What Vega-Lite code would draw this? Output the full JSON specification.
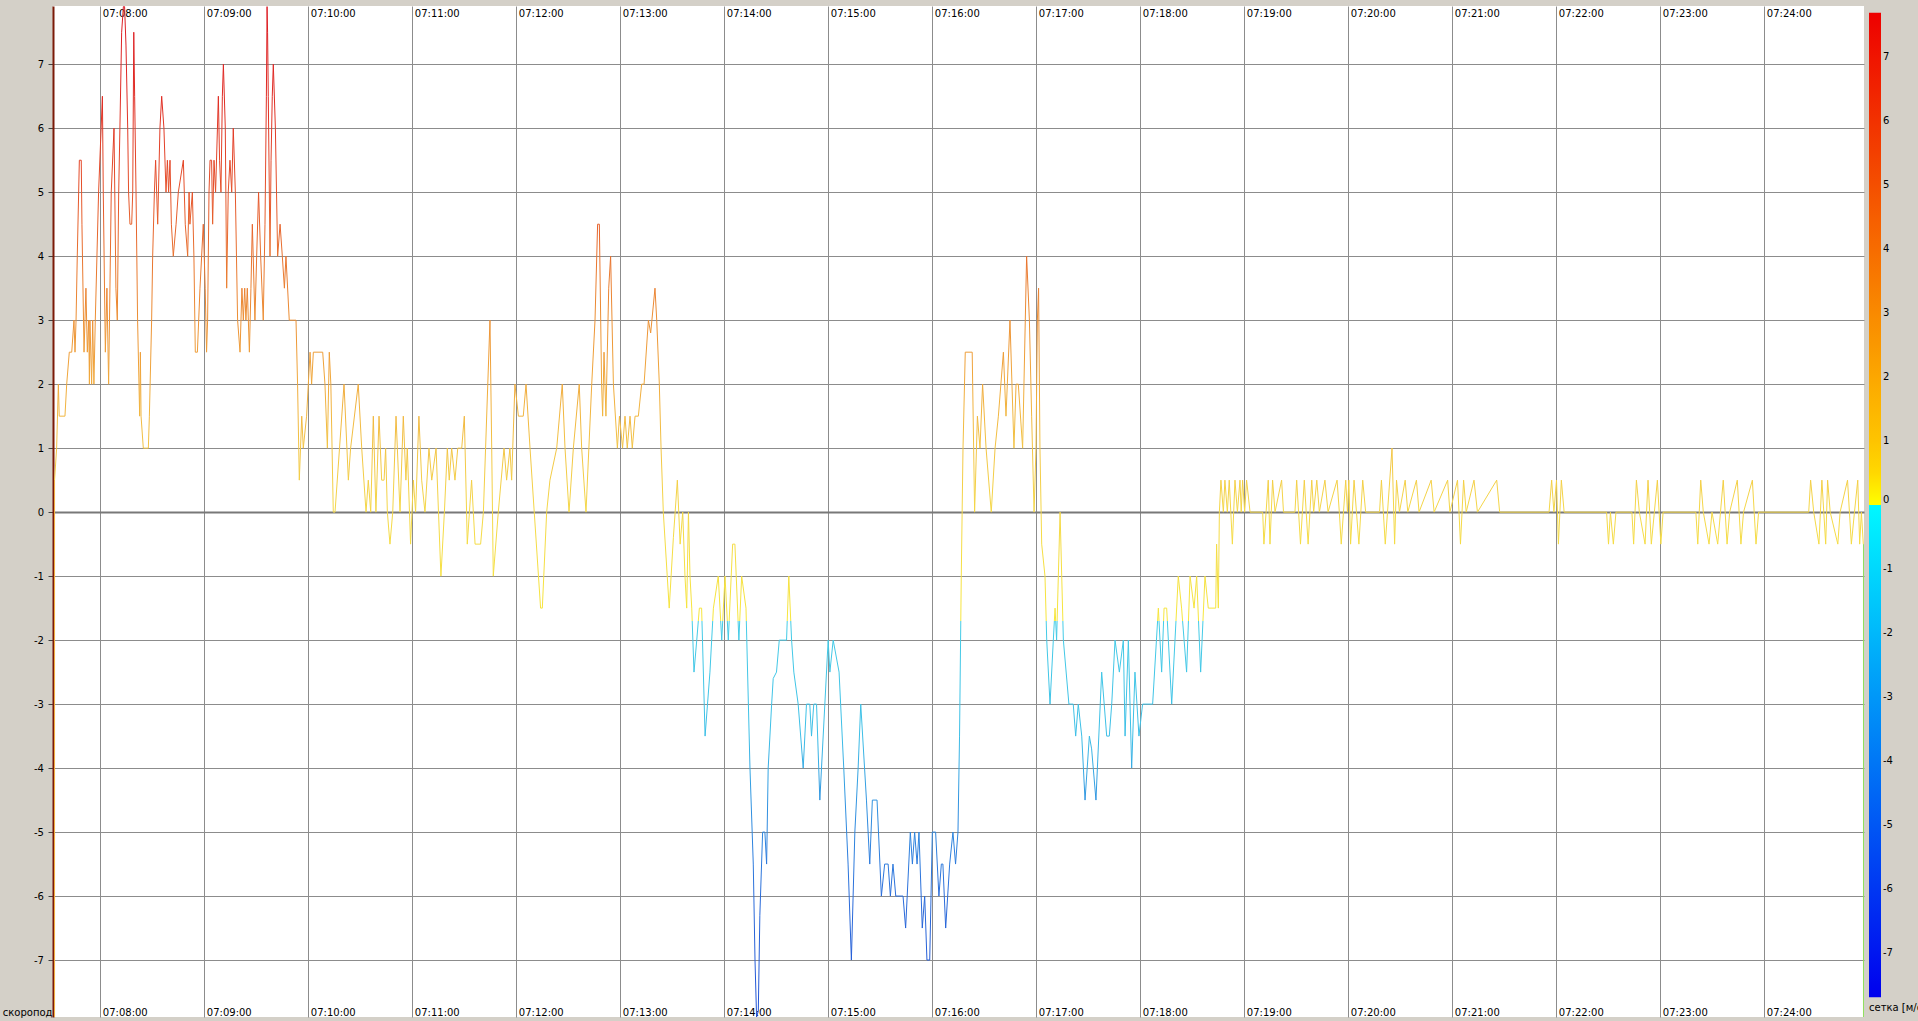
{
"$schema":"https://vega.github.io/schema/vega-lite/v6.json",
"width":1811,"height":1011,
"autosize":{"type":"none"},
"padding":{"left":53,"top":6,"right":54,"bottom":4},
"background":"#d4d0c8",
"config":{
"view":{"fill":"#ffffff","stroke":null},
"font":"DejaVu Sans",
"axis":{"labelFont":"DejaVu Sans","labelFontSize":10,"labelColor":"#000000","titleFont":"DejaVu Sans","gridColor":"#8c8c8c","gridWidth":1,"gridOpacity":1,"labelFlush":false,"labelOverlap":false,"labelBound":false},
"legend":{"labelFont":"DejaVu Sans","labelFontSize":10,"labelColor":"#000000","titleFont":"DejaVu Sans","titleFontSize":10,"titleFontWeight":"normal","titleColor":"#000000","padding":0,"gradientStrokeWidth":0,"gradientThickness":12,"gradientLength":492.3,"labelOffset":6,"labelBaseline":"middle","direction":"vertical","orient":"none"}
},
"datasets":{"climb":[
{"s":453.6,"v":0.5},{"s":454.8,"v":1.0},{"s":455.8,"v":2.0},{"s":456.3,"v":1.5},{"s":459.6,"v":1.5},{"s":460.6,"v":2.0},{"s":462.1,"v":2.5},{"s":463.5,"v":2.5},{"s":464.8,"v":3.0},{"s":465.4,"v":2.5},{"s":466.0,"v":3.0},{"s":466.7,"v":4.0},{"s":467.9,"v":5.5},{"s":469.0,"v":5.5},{"s":469.4,"v":4.5},{"s":470.6,"v":2.5},{"s":471.7,"v":3.5},{"s":472.5,"v":2.5},{"s":473.3,"v":3.0},{"s":473.7,"v":2.0},{"s":474.0,"v":3.0},{"s":475.0,"v":2.0},{"s":475.6,"v":3.0},{"s":476.3,"v":2.0},{"s":477.1,"v":3.0},{"s":479.0,"v":5.0},{"s":481.2,"v":6.5},{"s":481.7,"v":5.0},{"s":482.9,"v":2.5},{"s":483.8,"v":3.5},{"s":484.8,"v":2.0},{"s":486.3,"v":5.0},{"s":487.9,"v":6.0},{"s":489.0,"v":3.5},{"s":489.8,"v":3.0},{"s":490.6,"v":5.0},{"s":491.3,"v":6.0},{"s":492.3,"v":7.5},{"s":493.3,"v":7.9},{"s":494.0,"v":7.9},{"s":494.8,"v":7.3},{"s":495.8,"v":6.0},{"s":496.3,"v":5.0},{"s":497.1,"v":4.5},{"s":498.1,"v":4.5},{"s":498.7,"v":5.0},{"s":499.3,"v":7.5},{"s":499.8,"v":6.5},{"s":500.6,"v":5.0},{"s":501.5,"v":3.0},{"s":502.3,"v":2.0},{"s":502.7,"v":1.5},{"s":503.1,"v":2.5},{"s":503.5,"v":1.5},{"s":504.8,"v":1.0},{"s":507.7,"v":1.0},{"s":508.3,"v":1.5},{"s":509.6,"v":3.0},{"s":510.2,"v":4.0},{"s":511.2,"v":5.0},{"s":511.9,"v":5.5},{"s":512.5,"v":5.0},{"s":513.1,"v":4.5},{"s":514.4,"v":6.0},{"s":515.4,"v":6.5},{"s":516.7,"v":6.0},{"s":517.9,"v":5.0},{"s":518.7,"v":5.5},{"s":519.4,"v":5.0},{"s":520.2,"v":5.5},{"s":521.0,"v":4.5},{"s":522.1,"v":4.0},{"s":523.7,"v":4.5},{"s":525.0,"v":5.0},{"s":527.9,"v":5.5},{"s":529.0,"v":4.5},{"s":530.4,"v":4.0},{"s":531.2,"v":5.0},{"s":531.7,"v":4.5},{"s":533.1,"v":5.0},{"s":534.0,"v":4.0},{"s":534.8,"v":2.5},{"s":536.0,"v":2.5},{"s":537.5,"v":3.5},{"s":539.4,"v":4.5},{"s":540.5,"v":3.5},{"s":541.3,"v":2.5},{"s":541.9,"v":3.0},{"s":542.7,"v":5.0},{"s":543.3,"v":5.5},{"s":544.2,"v":5.5},{"s":544.8,"v":4.5},{"s":545.6,"v":5.5},{"s":546.5,"v":5.0},{"s":548.1,"v":6.5},{"s":548.8,"v":5.5},{"s":549.6,"v":5.0},{"s":550.4,"v":6.5},{"s":551.0,"v":7.0},{"s":552.1,"v":6.0},{"s":552.9,"v":3.5},{"s":553.8,"v":5.0},{"s":554.8,"v":5.5},{"s":555.8,"v":5.0},{"s":556.7,"v":6.0},{"s":557.9,"v":5.0},{"s":559.2,"v":3.0},{"s":560.6,"v":2.5},{"s":561.7,"v":3.5},{"s":562.5,"v":3.0},{"s":563.3,"v":3.5},{"s":564.0,"v":3.0},{"s":564.8,"v":3.5},{"s":566.0,"v":2.5},{"s":566.9,"v":3.5},{"s":567.7,"v":4.5},{"s":569.2,"v":3.0},{"s":570.2,"v":4.0},{"s":571.3,"v":5.0},{"s":572.5,"v":4.0},{"s":574.0,"v":3.0},{"s":575.0,"v":4.5},{"s":575.8,"v":6.5},{"s":576.2,"v":7.9},{"s":576.5,"v":7.5},{"s":576.9,"v":6.5},{"s":577.9,"v":4.0},{"s":578.5,"v":5.5},{"s":579.2,"v":6.5},{"s":579.8,"v":7.0},{"s":581.0,"v":6.0},{"s":582.3,"v":4.0},{"s":583.7,"v":4.5},{"s":585.0,"v":4.0},{"s":586.2,"v":3.5},{"s":587.1,"v":4.0},{"s":589.0,"v":3.0},{"s":592.9,"v":3.0},{"s":593.8,"v":2.0},{"s":594.8,"v":0.5},{"s":596.2,"v":1.5},{"s":597.1,"v":1.0},{"s":599.0,"v":1.5},{"s":601.0,"v":2.5},{"s":601.9,"v":2.0},{"s":602.9,"v":2.5},{"s":608.3,"v":2.5},{"s":609.6,"v":2.0},{"s":611.0,"v":1.0},{"s":612.1,"v":2.5},{"s":613.0,"v":2.0},{"s":614.4,"v":0.0},{"s":615.4,"v":0.0},{"s":620.6,"v":2.0},{"s":623.1,"v":0.5},{"s":624.4,"v":1.0},{"s":628.8,"v":2.0},{"s":630.8,"v":1.0},{"s":633.3,"v":0.0},{"s":634.6,"v":0.5},{"s":636.0,"v":0.0},{"s":637.5,"v":1.5},{"s":639.0,"v":0.0},{"s":640.8,"v":1.5},{"s":642.3,"v":0.5},{"s":643.7,"v":0.5},{"s":644.6,"v":1.0},{"s":645.6,"v":0.0},{"s":647.1,"v":-0.5},{"s":648.7,"v":0.0},{"s":650.6,"v":1.5},{"s":652.9,"v":0.0},{"s":654.8,"v":1.5},{"s":656.3,"v":0.5},{"s":657.1,"v":1.0},{"s":659.0,"v":-0.5},{"s":660.6,"v":0.5},{"s":661.9,"v":0.0},{"s":663.8,"v":1.5},{"s":665.4,"v":0.5},{"s":667.3,"v":0.0},{"s":669.6,"v":1.0},{"s":671.2,"v":0.5},{"s":673.7,"v":1.0},{"s":676.5,"v":-1.0},{"s":678.5,"v":0.0},{"s":680.2,"v":1.0},{"s":681.3,"v":0.5},{"s":682.7,"v":1.0},{"s":684.6,"v":0.5},{"s":686.2,"v":1.0},{"s":688.5,"v":1.0},{"s":690.0,"v":1.5},{"s":691.3,"v":0.0},{"s":691.7,"v":-0.5},{"s":694.2,"v":0.5},{"s":696.2,"v":-0.5},{"s":699.4,"v":-0.5},{"s":701.0,"v":0.0},{"s":704.8,"v":3.0},{"s":705.8,"v":1.0},{"s":706.7,"v":-1.0},{"s":709.6,"v":0.0},{"s":712.9,"v":1.0},{"s":714.4,"v":0.5},{"s":716.3,"v":1.0},{"s":717.3,"v":0.5},{"s":719.2,"v":2.0},{"s":721.2,"v":1.5},{"s":724.0,"v":1.5},{"s":725.6,"v":2.0},{"s":727.9,"v":1.0},{"s":734.0,"v":-1.5},{"s":735.0,"v":-1.5},{"s":737.5,"v":0.0},{"s":739.4,"v":0.5},{"s":743.3,"v":1.0},{"s":746.5,"v":2.0},{"s":748.1,"v":1.0},{"s":750.4,"v":0.0},{"s":752.9,"v":1.0},{"s":756.3,"v":2.0},{"s":757.7,"v":1.0},{"s":760.2,"v":0.0},{"s":763.5,"v":2.0},{"s":765.4,"v":3.0},{"s":766.9,"v":4.5},{"s":767.9,"v":4.5},{"s":769.2,"v":2.0},{"s":769.8,"v":1.5},{"s":770.6,"v":2.5},{"s":771.7,"v":1.5},{"s":773.3,"v":3.5},{"s":774.4,"v":4.0},{"s":776.0,"v":2.0},{"s":778.3,"v":1.0},{"s":779.5,"v":1.5},{"s":781.3,"v":1.0},{"s":782.7,"v":1.5},{"s":784.0,"v":1.0},{"s":785.6,"v":1.5},{"s":786.9,"v":1.0},{"s":788.5,"v":1.5},{"s":790.4,"v":1.5},{"s":792.3,"v":2.0},{"s":793.7,"v":2.0},{"s":796.2,"v":3.0},{"s":797.5,"v":2.8},{"s":800.0,"v":3.5},{"s":801.0,"v":3.0},{"s":802.5,"v":2.0},{"s":803.5,"v":1.0},{"s":804.8,"v":0.0},{"s":808.2,"v":-1.5},{"s":810.6,"v":-0.4},{"s":812.9,"v":0.5},{"s":814.5,"v":-0.5},{"s":816.0,"v":0.0},{"s":817.3,"v":-1.0},{"s":818.3,"v":-1.5},{"s":819.3,"v":0.0},{"s":820.2,"v":-1.0},{"s":821.2,"v":-1.5},{"s":822.5,"v":-2.5},{"s":824.1,"v":-2.0},{"s":825.6,"v":-1.5},{"s":826.9,"v":-1.5},{"s":828.9,"v":-3.5},{"s":831.7,"v":-2.5},{"s":833.7,"v":-1.5},{"s":836.5,"v":-1.0},{"s":838.5,"v":-2.0},{"s":840.4,"v":-1.0},{"s":842.3,"v":-2.0},{"s":844.8,"v":-0.5},{"s":846.1,"v":-0.5},{"s":848.4,"v":-2.0},{"s":850.0,"v":-1.0},{"s":852.5,"v":-1.5},{"s":854.8,"v":-4.0},{"s":856.7,"v":-5.5},{"s":857.7,"v":-7.0},{"s":858.6,"v":-7.89},{"s":859.6,"v":-7.8},{"s":860.5,"v":-6.3},{"s":862.1,"v":-5.0},{"s":863.4,"v":-5.0},{"s":864.4,"v":-5.5},{"s":865.3,"v":-4.0},{"s":867.3,"v":-3.0},{"s":868.2,"v":-2.6},{"s":870.1,"v":-2.5},{"s":871.7,"v":-2.0},{"s":875.9,"v":-2.0},{"s":877.2,"v":-1.0},{"s":878.8,"v":-2.0},{"s":880.1,"v":-2.5},{"s":882.6,"v":-3.0},{"s":885.5,"v":-4.0},{"s":887.4,"v":-3.0},{"s":889.3,"v":-3.0},{"s":890.3,"v":-3.5},{"s":891.6,"v":-3.0},{"s":893.2,"v":-3.0},{"s":895.1,"v":-4.5},{"s":898.0,"v":-3.0},{"s":899.9,"v":-2.0},{"s":900.9,"v":-2.5},{"s":902.8,"v":-2.0},{"s":906.2,"v":-2.5},{"s":908.9,"v":-4.0},{"s":911.4,"v":-5.5},{"s":913.3,"v":-7.0},{"s":915.3,"v":-5.0},{"s":917.2,"v":-4.0},{"s":918.7,"v":-3.0},{"s":922.0,"v":-4.5},{"s":923.9,"v":-5.5},{"s":925.4,"v":-4.5},{"s":928.1,"v":-4.5},{"s":930.6,"v":-6.0},{"s":932.5,"v":-5.5},{"s":934.5,"v":-5.5},{"s":935.8,"v":-6.0},{"s":937.3,"v":-5.5},{"s":938.9,"v":-6.0},{"s":943.1,"v":-6.0},{"s":944.6,"v":-6.5},{"s":947.3,"v":-5.0},{"s":948.5,"v":-5.5},{"s":949.8,"v":-5.0},{"s":951.2,"v":-5.5},{"s":952.3,"v":-5.0},{"s":954.2,"v":-6.5},{"s":955.6,"v":-6.0},{"s":956.9,"v":-7.0},{"s":958.5,"v":-7.0},{"s":960.0,"v":-5.0},{"s":961.9,"v":-5.0},{"s":963.8,"v":-6.0},{"s":965.2,"v":-5.5},{"s":966.1,"v":-5.5},{"s":967.7,"v":-6.5},{"s":970.0,"v":-5.5},{"s":971.9,"v":-5.0},{"s":973.4,"v":-5.5},{"s":974.8,"v":-5.0},{"s":975.7,"v":-3.5},{"s":976.7,"v":-1.0},{"s":977.7,"v":1.0},{"s":979.0,"v":2.5},{"s":983.0,"v":2.5},{"s":984.4,"v":0.0},{"s":986.0,"v":1.5},{"s":987.5,"v":1.0},{"s":989.0,"v":2.0},{"s":991.0,"v":1.0},{"s":994.0,"v":0.0},{"s":996.2,"v":1.0},{"s":998.1,"v":1.5},{"s":1001.0,"v":2.5},{"s":1002.5,"v":1.5},{"s":1004.8,"v":3.0},{"s":1007.1,"v":1.0},{"s":1008.3,"v":2.0},{"s":1009.6,"v":2.0},{"s":1012.1,"v":1.0},{"s":1014.4,"v":4.0},{"s":1016.0,"v":3.0},{"s":1017.3,"v":1.5},{"s":1018.7,"v":0.0},{"s":1019.8,"v":1.0},{"s":1020.6,"v":3.0},{"s":1021.3,"v":3.5},{"s":1022.1,"v":1.0},{"s":1023.1,"v":-0.5},{"s":1025.0,"v":-1.0},{"s":1026.0,"v":-2.0},{"s":1027.9,"v":-3.0},{"s":1029.8,"v":-2.0},{"s":1030.8,"v":-1.5},{"s":1031.7,"v":-2.0},{"s":1033.7,"v":0.0},{"s":1035.6,"v":-2.0},{"s":1038.8,"v":-3.0},{"s":1041.3,"v":-3.0},{"s":1042.7,"v":-3.5},{"s":1044.2,"v":-3.0},{"s":1046.2,"v":-3.5},{"s":1048.1,"v":-4.5},{"s":1050.6,"v":-3.5},{"s":1051.9,"v":-3.7},{"s":1054.4,"v":-4.5},{"s":1057.7,"v":-2.5},{"s":1060.6,"v":-3.5},{"s":1062.1,"v":-3.5},{"s":1063.5,"v":-3.0},{"s":1065.4,"v":-2.0},{"s":1067.9,"v":-2.5},{"s":1070.2,"v":-2.0},{"s":1071.2,"v":-3.5},{"s":1073.1,"v":-2.0},{"s":1075.0,"v":-4.0},{"s":1076.9,"v":-2.5},{"s":1079.2,"v":-3.5},{"s":1081.3,"v":-3.0},{"s":1087.1,"v":-3.0},{"s":1090.4,"v":-1.5},{"s":1092.3,"v":-2.5},{"s":1093.7,"v":-1.5},{"s":1095.2,"v":-1.5},{"s":1098.1,"v":-3.0},{"s":1100.0,"v":-2.0},{"s":1101.9,"v":-1.0},{"s":1103.8,"v":-1.5},{"s":1106.7,"v":-2.5},{"s":1108.7,"v":-1.0},{"s":1111.0,"v":-1.5},{"s":1112.5,"v":-1.0},{"s":1114.8,"v":-2.5},{"s":1117.3,"v":-1.0},{"s":1119.2,"v":-1.5},{"s":1123.5,"v":-1.5},{"s":1124.0,"v":-0.5},{"s":1125.0,"v":-1.5},{"s":1125.6,"v":0.0},{"s":1126.5,"v":0.5},{"s":1127.9,"v":0.0},{"s":1128.8,"v":0.5},{"s":1130.2,"v":0.0},{"s":1131.3,"v":0.5},{"s":1133.1,"v":-0.5},{"s":1134.6,"v":0.5},{"s":1136.0,"v":0.0},{"s":1137.5,"v":0.5},{"s":1138.2,"v":0.0},{"s":1139.0,"v":0.5},{"s":1140.2,"v":0.0},{"s":1141.3,"v":0.5},{"s":1143.3,"v":0.0},{"s":1150.6,"v":0.0},{"s":1151.3,"v":-0.5},{"s":1153.8,"v":0.5},{"s":1154.8,"v":-0.5},{"s":1156.3,"v":0.5},{"s":1157.7,"v":0.0},{"s":1161.5,"v":0.5},{"s":1162.6,"v":0.0},{"s":1169.2,"v":0.0},{"s":1170.2,"v":0.5},{"s":1172.4,"v":-0.5},{"s":1174.6,"v":0.5},{"s":1176.8,"v":-0.5},{"s":1178.9,"v":0.5},{"s":1180.0,"v":0.0},{"s":1181.8,"v":0.5},{"s":1183.3,"v":0.0},{"s":1186.5,"v":0.5},{"s":1188.3,"v":0.0},{"s":1193.5,"v":0.5},{"s":1194.8,"v":0.0},{"s":1195.9,"v":-0.5},{"s":1198.5,"v":0.5},{"s":1199.5,"v":0.0},{"s":1200.3,"v":0.5},{"s":1201.3,"v":-0.5},{"s":1203.3,"v":0.5},{"s":1206.1,"v":-0.5},{"s":1208.3,"v":0.5},{"s":1210.0,"v":0.0},{"s":1218.0,"v":0.0},{"s":1219.1,"v":0.5},{"s":1221.3,"v":-0.5},{"s":1225.2,"v":1.0},{"s":1226.7,"v":-0.5},{"s":1227.8,"v":0.5},{"s":1229.5,"v":0.0},{"s":1232.8,"v":0.5},{"s":1234.3,"v":0.0},{"s":1239.3,"v":0.5},{"s":1240.8,"v":0.0},{"s":1247.8,"v":0.5},{"s":1249.5,"v":0.0},{"s":1257.3,"v":0.5},{"s":1258.6,"v":0.0},{"s":1263.0,"v":0.5},{"s":1264.7,"v":-0.5},{"s":1266.5,"v":0.5},{"s":1268.0,"v":0.0},{"s":1272.5,"v":0.5},{"s":1274.5,"v":0.0},{"s":1285.6,"v":0.5},{"s":1287.3,"v":0.0},{"s":1315.8,"v":0.0},{"s":1317.3,"v":0.5},{"s":1318.6,"v":0.0},{"s":1320.1,"v":0.5},{"s":1321.2,"v":-0.5},{"s":1322.9,"v":0.5},{"s":1324.5,"v":0.0},{"s":1349.0,"v":0.0},{"s":1350.1,"v":-0.5},{"s":1351.2,"v":0.0},{"s":1352.9,"v":-0.5},{"s":1354.4,"v":0.0},{"s":1363.6,"v":0.0},{"s":1364.6,"v":-0.5},{"s":1366.2,"v":0.5},{"s":1367.9,"v":0.0},{"s":1371.2,"v":-0.5},{"s":1372.9,"v":0.5},{"s":1374.8,"v":-0.5},{"s":1378.3,"v":0.5},{"s":1380.3,"v":-0.5},{"s":1381.6,"v":0.0},{"s":1400.5,"v":0.0},{"s":1401.6,"v":-0.5},{"s":1403.3,"v":0.5},{"s":1404.8,"v":0.0},{"s":1408.1,"v":-0.5},{"s":1409.8,"v":0.0},{"s":1413.1,"v":-0.5},{"s":1416.3,"v":0.5},{"s":1418.5,"v":-0.5},{"s":1420.0,"v":0.0},{"s":1424.4,"v":0.5},{"s":1426.5,"v":-0.5},{"s":1428.0,"v":0.0},{"s":1433.1,"v":0.5},{"s":1435.2,"v":-0.5},{"s":1436.7,"v":0.0},{"s":1465.6,"v":0.0},{"s":1466.7,"v":0.5},{"s":1468.5,"v":0.0},{"s":1471.5,"v":-0.5},{"s":1473.2,"v":0.5},{"s":1475.4,"v":-0.5},{"s":1476.5,"v":0.5},{"s":1478.0,"v":0.0},{"s":1482.4,"v":-0.5},{"s":1483.7,"v":0.0},{"s":1488.0,"v":0.5},{"s":1490.2,"v":-0.5},{"s":1492.0,"v":0.0},{"s":1493.9,"v":0.5},{"s":1495.0,"v":-0.5},{"s":1496.0,"v":0.0},{"s":1497.1,"v":-0.5}
]},
"resolve":{"axis":{"x":"independent"}},
"encoding":{
"x":{"field":"s","type":"quantitative","scale":{"domain":[452.7,1497.5],"nice":false,"zero":false},
"axis":{"orient":"bottom","title":null,"values":[480,540,600,660,720,780,840,900,960,1020,1080,1140,1200,1260,1320,1380,1440],"labelExpr":"timeFormat(datetime(2000,0,1,7,0,datum.value),'%H:%M:%S')","grid":true,"ticks":false,"tickSize":0,"domain":false,"labelAlign":"left","labelBaseline":"middle","labelPadding":-5,"labelOffset":2}},
"y":{"field":"v","type":"quantitative","scale":{"domain":[-7.89,7.91],"nice":false,"zero":false},
"axis":{"orient":"left","title":"скоропод","values":[-7,-6,-5,-4,-3,-2,-1,0,1,2,3,4,5,6,7],"labelExpr":"toString(datum.value)","grid":true,"gridWidth":{"condition":{"test":"datum.value === 0","value":2.2},"value":1},"gridColor":{"condition":{"test":"datum.value === 0","value":"#787878"},"value":"#8c8c8c"},"ticks":true,"tickSize":5,"tickColor":"#404040","domain":true,"domainColor":"#7b1a08","domainWidth":2,"labelPadding":4.5,"labelAlign":"right","labelBaseline":"middle","titleAngle":0,"titleX":-1,"titleY":1006,"titleAlign":"right","titleBaseline":"middle","titleFontSize":10,"titleFontWeight":"normal","titleColor":"#000000"}}
},
"layer":[
{
"data":{"name":"climb"},
"mark":{"type":"line","strokeWidth":1,"clip":true,"stroke":{"gradient":"linear","x1":0,"y1":0,"x2":0,"y2":1,"stops":[
{"offset":0,"color":"#dc1c24"},{"offset":0.0887,"color":"#e02c24"},{"offset":0.1837,"color":"#e5522a"},{"offset":0.247,"color":"#e8722e"},{"offset":0.3103,"color":"#ec9034"},{"offset":0.3737,"color":"#f0aa3c"},{"offset":0.437,"color":"#f2c444"},{"offset":0.5003,"color":"#f4d848"},{"offset":0.608,"color":"#f6e63c"},{"offset":0.6081,"color":"#44cce6"},{"offset":0.722,"color":"#3cbee6"},{"offset":0.785,"color":"#3094e0"},{"offset":0.88,"color":"#2a6cda"},{"offset":1,"color":"#2050d4"}]}}
},
{
"data":{"values":[{"s":453.6,"v":-7.89,"v2":0.5}]},
"mark":{"type":"rule","color":"#f0b040","strokeWidth":1},
"encoding":{
"x":{"field":"s","type":"quantitative","scale":{"domain":[452.7,1497.5],"nice":false,"zero":false},
"axis":{"orient":"top","title":null,"values":[480,540,600,660,720,780,840,900,960,1020,1080,1140,1200,1260,1320,1380,1440],"labelExpr":"timeFormat(datetime(2000,0,1,7,0,datum.value),'%H:%M:%S')","grid":false,"ticks":false,"tickSize":0,"domain":false,"labelAlign":"left","labelBaseline":"middle","labelPadding":-7,"labelOffset":2}},
"y2":{"field":"v2"}
}
},
{
"data":{"values":[{"s":1497.2,"v":-7.89,"v2":-0.5}]},
"mark":{"type":"rule","color":"#8ee05a","strokeWidth":1},
"encoding":{
"x":{"field":"s","type":"quantitative","scale":{"domain":[452.7,1497.5],"nice":false,"zero":false},"axis":null},
"y2":{"field":"v2"}
}
},
{
"data":{"name":"climb"},
"mark":{"type":"point","opacity":0,"size":1,"filled":true},
"encoding":{
"x":{"field":"s","type":"quantitative","scale":{"domain":[452.7,1497.5],"nice":false,"zero":false},"axis":null},
"fill":{"field":"v","type":"quantitative","scale":{"domain":[0,0.6,7.7],"range":["#ffff00","#ffd000","#ee0000"],"interpolate":"rgb","zero":false,"nice":false},
"legend":{"type":"gradient","title":null,"values":[0,1,2,3,4,5,6,7],"labelExpr":"toString(datum.value)","legendX":1816,"legendY":6.7}},
"stroke":{"field":"v","type":"quantitative","scale":{"domain":[-7.7,0],"range":["#0000ee","#00f8ff"],"interpolate":"rgb","zero":false,"nice":false},
"legend":{"type":"gradient","title":"сетка [м/с]","titleOrient":"bottom","titlePadding":6,"titleAnchor":"start","titleAlign":"left","values":[-7,-6,-5,-4,-3,-2,-1],"labelExpr":"toString(datum.value)","legendX":1816,"legendY":499}}
}
}
]
}
